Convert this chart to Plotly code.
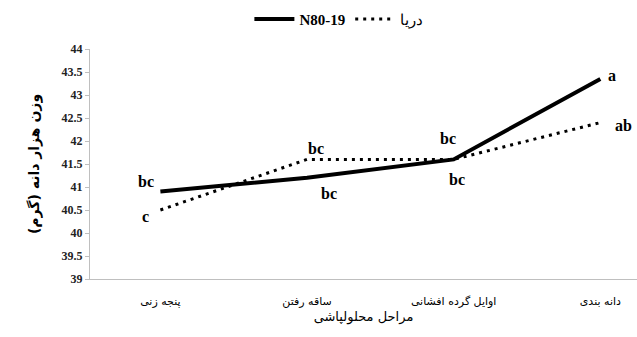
import plotly.graph_objects as go

# Growth stages (x categories)
stages = ["پنجه زنی", "ساقه رفتن", "اوایل گرده افشانی", "دانه بندی"]

# 1000-grain weight (g) per cultivar
n80_19 = [40.9, 41.2, 41.6, 43.35]
darya = [40.5, 41.6, 41.6, 42.4]

# Mean-comparison letters
n80_letters = ["bc", "bc", "bc", "a"]
darya_letters = ["c", "bc", "bc", "ab"]

y_ticks = [39 + 0.5 * i for i in range(11)]

x_idx = list(range(len(stages)))

fig = go.Figure()
fig.add_trace(go.Scatter(
    x=x_idx, y=n80_19, mode="lines", name="<b>N80-19</b>",
    line=dict(color="black", width=4),
))
fig.add_trace(go.Scatter(
    x=x_idx, y=darya, mode="lines", name="دریا",
    line=dict(color="black", width=3, dash="3px,5px"),
))

letter_font = dict(family="Liberation Serif", size=16, color="black")

# letter placement offsets (pixels) for each point
n80_shift = [(-14, 10), (22, -16), (-6, 21), (12, 3)]
darya_shift = [(-15, -6), (9, 11), (3, -20), (23, -3)]

for i in x_idx:
    dx, dy = n80_shift[i]
    fig.add_annotation(x=i, y=n80_19[i], text="<b>%s</b>" % n80_letters[i],
                       showarrow=False, xshift=dx, yshift=dy, font=letter_font)
    dx, dy = darya_shift[i]
    fig.add_annotation(x=i, y=darya[i], text="<b>%s</b>" % darya_letters[i],
                       showarrow=False, xshift=dx, yshift=dy, font=letter_font)

fig.update_layout(
    width=637, height=337,
    margin=dict(l=90, r=0, t=49, b=58),
    paper_bgcolor="white", plot_bgcolor="white",
    showlegend=True,
    legend=dict(
        orientation="h", x=0.455, xanchor="center", xref="paper",
        y=0.992, yanchor="top", yref="container",
        font=dict(family="Liberation Serif", size=15, color="black"),
        itemwidth=40, tracegroupgap=0,
    ),
    xaxis=dict(
        tickmode="array", tickvals=x_idx, ticktext=stages,
        range=[-0.48, 3.25],
        showline=True, linecolor="#bfbfbf", linewidth=1,
        showgrid=False, zeroline=False, ticks="",
        ticklabelstandoff=12,
        tickfont=dict(family="DejaVu Sans", size=11, color="black"),
        title=dict(text="مراحل محلولپاشی",
                   font=dict(family="DejaVu Sans", size=13, color="black"),
                   standoff=4),
    ),
    yaxis=dict(
        range=[39, 44], tickvals=y_ticks,
        ticktext=["<b>%g</b>" % v for v in y_ticks],
        showline=True, linecolor="#bfbfbf", linewidth=1,
        showgrid=False, zeroline=False,
        ticks="outside", ticklen=4, tickcolor="#bfbfbf",
        tickfont=dict(family="Liberation Serif", size=12, color="#222"),
        title=dict(text="<b>وزن هزار دانه (گرم)</b>",
                   font=dict(family="DejaVu Sans", size=14, color="black"),
                   standoff=18),
    ),
)

fig.write_html("out.html")
